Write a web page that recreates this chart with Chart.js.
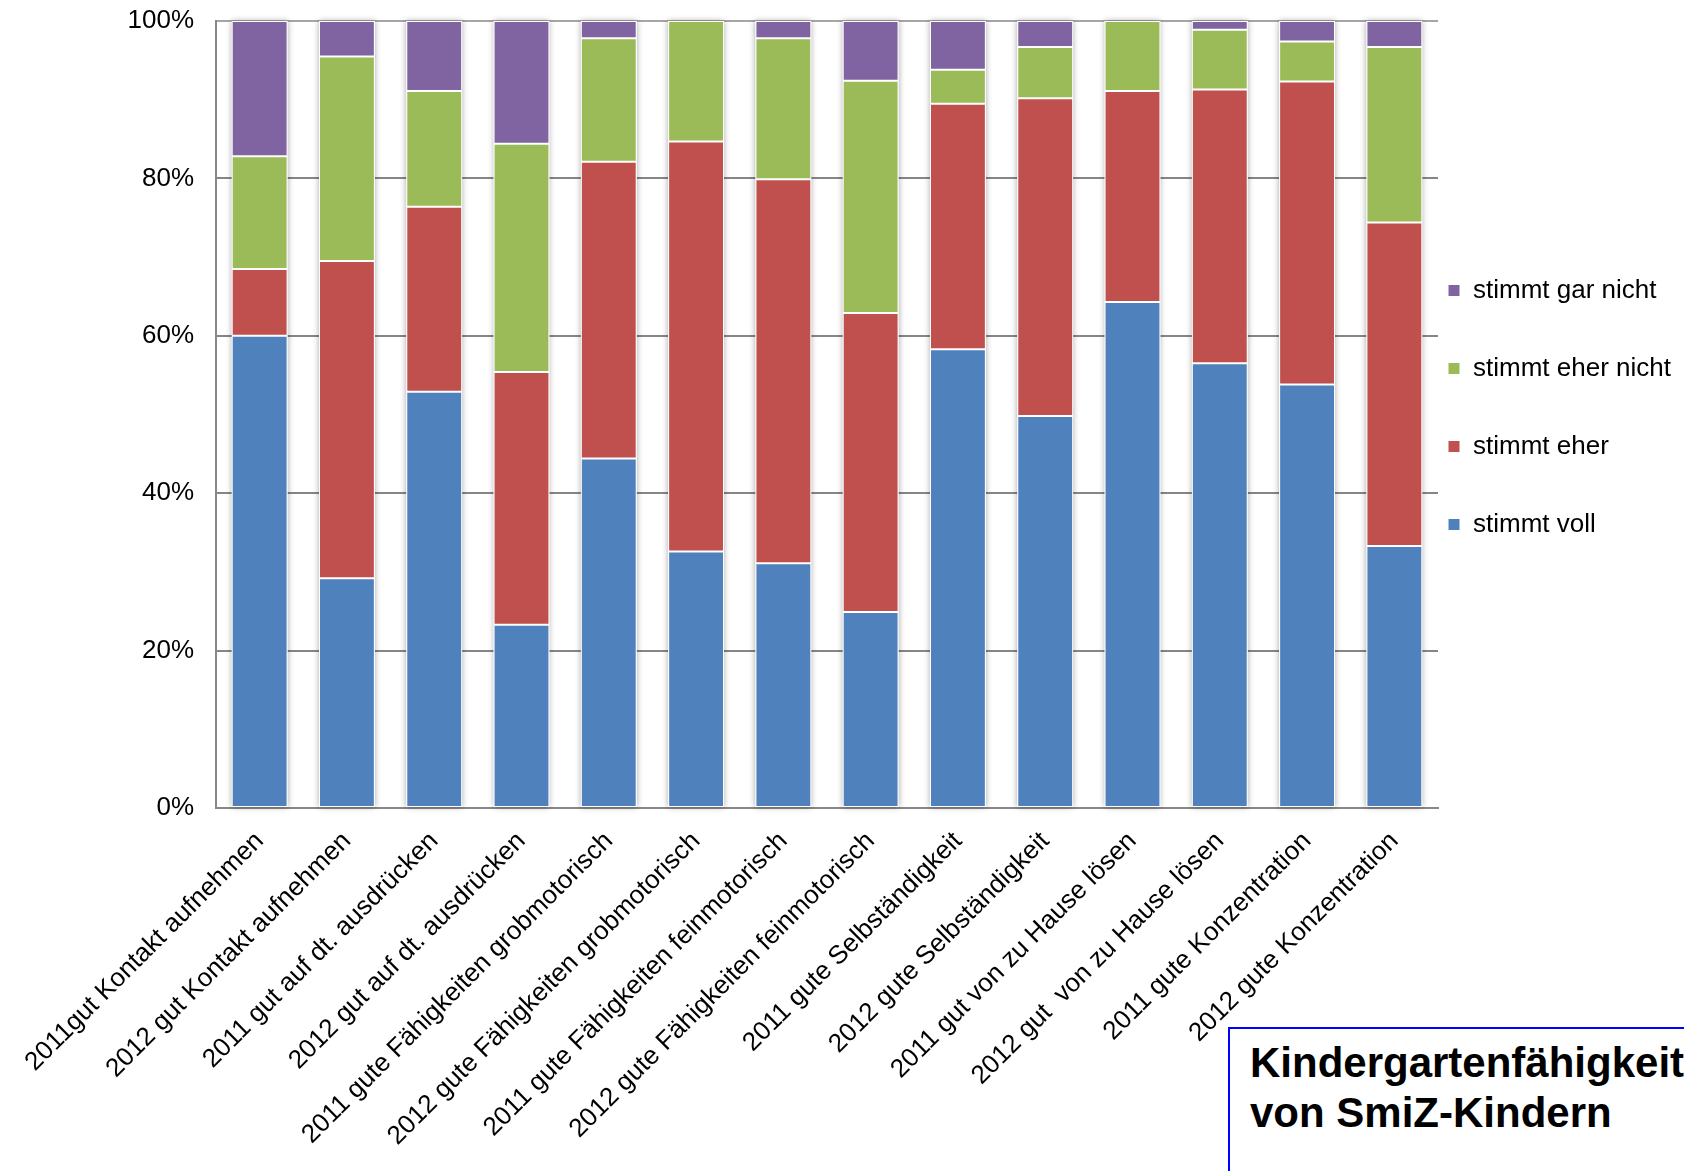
<!DOCTYPE html>
<html>
<head>
<meta charset="utf-8">
<script src="https://cdn.jsdelivr.net/npm/chart.js@4/dist/chart.umd.min.js"></script>
<style>
  html, body { margin: 0; padding: 0; background: #ffffff; overflow: hidden; width: 1684px; height: 1171px; }
  #wrap { position: absolute; left: 0; top: 0; width: 1684px; height: 1171px; }
  #title {
    position: absolute; left: 1228px; top: 1027px; width: 600px; height: 300px;
    border: 2px solid #0000ff; padding: 9px 0 0 20px; box-sizing: border-box;
    font-family: "Liberation Sans", Arial, sans-serif; font-weight: bold; font-size: 42px;
    line-height: 50px; white-space: nowrap; color: #000; background: #fff;
  }
</style>
</head>
<body>
<div id="wrap"><canvas id="c" width="1684" height="1171"></canvas></div>
<div id="title">Kindergartenfähigkeiten<br>von SmiZ-Kindern</div>
<script>
const categories = [
  "2011gut Kontakt aufnehmen",
  "2012 gut Kontakt aufnehmen",
  "2011 gut auf dt. ausdrücken",
  "2012 gut auf dt. ausdrücken",
  "2011 gute Fähigkeiten grobmotorisch",
  "2012 gute Fähigkeiten grobmotorisch",
  "2011 gute Fähigkeiten feinmotorisch",
  "2012 gute Fähigkeiten feinmotorisch",
  "2011 gute Selbständigkeit",
  "2012 gute Selbständigkeit",
  "2011 gut von zu Hause lösen",
  "2012 gut  von zu Hause lösen",
  "2011 gute Konzentration",
  "2012 gute Konzentration"
];
const seriesNames = ["stimmt voll", "stimmt eher", "stimmt eher nicht", "stimmt gar nicht"];
const stimmtVoll      = [60.0, 29.2, 52.9, 23.3, 44.4, 32.6, 31.1, 24.9, 58.3, 49.8, 64.3, 56.5, 53.8, 33.3];
const stimmtEher      = [ 8.5, 40.3, 23.5, 32.1, 37.7, 52.1, 48.8, 38.0, 31.2, 40.4, 26.8, 34.8, 38.5, 41.1];
const stimmtEherNicht = [14.3, 26.0, 14.7, 29.0, 15.7, 15.3, 17.9, 29.5,  4.3,  6.5,  8.9,  7.6,  5.1, 22.3];
const stimmtGarNicht  = [17.2,  4.5,  8.9, 15.6,  2.2,  0.0,  2.2,  7.6,  6.2,  3.3,  0.0,  1.1,  2.6,  3.3];
const yTicks = [0, 20, 40, 60, 80, 100];

const colors = ["#4F81BD", "#C0504D", "#9BBB59", "#8064A2"];
const FONT = "'Liberation Sans', Arial, sans-serif";

const seriesValues = [stimmtVoll, stimmtEher, stimmtEherNicht, stimmtGarNicht];

const shadowPlugin = {
  id: 'barShadow',
  beforeDatasetsDraw(chart) {
    const ctx = chart.ctx;
    const metas = chart.getSortedVisibleDatasetMetas();
    if (!metas.length) return;
    const n = metas[0].data.length;
    ctx.save();
    ctx.shadowColor = 'rgba(0,0,0,0.35)';
    ctx.shadowBlur = 6;
    ctx.fillStyle = '#ffffff';
    for (let j = 0; j < n; j++) {
      let top = Infinity, bottom = -Infinity, left = 0, width = 0;
      metas.forEach(m => {
        const el = m.data[j];
        if (!el) return;
        const p = el.getProps(['x', 'y', 'base', 'width'], true);
        top = Math.min(top, p.y, p.base);
        bottom = Math.max(bottom, p.y, p.base);
        left = p.x - p.width / 2;
        width = p.width;
      });
      ctx.fillRect(left, top, width, bottom - top);
    }
    ctx.restore();
  }
};

const legendShift = {
  id: 'legendShift',
  afterLayout(chart) {
    const lg = chart.legend;
    if (!lg) return;
    lg.left -= 42;
    lg.top -= 7; lg.bottom -= 7;
  }
};

new Chart(document.getElementById('c'), {
  type: 'bar',
  data: {
    labels: categories,
    datasets: seriesValues.map((vals, i) => ({
      label: seriesNames[i],
      data: vals,
      backgroundColor: colors[i],
      borderColor: '#ffffff',
      borderWidth: 1,
      borderSkipped: false,
      barPercentage: 0.64,
      categoryPercentage: 1.0
    }))
  },
  options: {
    responsive: false,
    animation: false,
    devicePixelRatio: 1,
    layout: { padding: { left: 0, top: 21, right: 0, bottom: 0 } },
    plugins: {
      tooltip: { enabled: false },
      legend: {
        position: 'right',
        fullSize: false,
        reverse: true,
        maxWidth: 246,
        labels: {
          boxWidth: 12,
          boxHeight: 12,
          padding: 52,
          color: '#000000',
          font: { family: FONT, size: 26 }
        }
      }
    },
    scales: {
      x: {
        stacked: true,
        grid: { display: false, drawTicks: false },
        border: { display: true, color: '#888888', width: 2 },
        ticks: {
          autoSkip: false,
          minRotation: 45,
          maxRotation: 45,
          padding: 18,
          color: '#000000',
          font: { family: FONT, size: 26 }
        },
        afterFit(scale) { scale.height = 1171 - 808; }
      },
      y: {
        stacked: true,
        min: 0,
        max: 100,
        afterBuildTicks(scale) { scale.ticks = yTicks.map(v => ({ value: v })); },
        grid: {
          drawTicks: false,
          lineWidth: 2,
          color: (ctx) => (ctx.tick && ctx.tick.value === 100) ? '#a6a6a6' : '#868686'
        },
        border: { display: true, color: '#888888', width: 2 },
        ticks: {
          padding: 22,
          color: '#000000',
          font: { family: FONT, size: 26 },
          callback: (v) => v + '%'
        },
        afterFit(scale) { scale.width = 216; scale.paddingTop = 0; scale.paddingBottom = 0; }
      }
    }
  },
  plugins: [shadowPlugin, legendShift]
});
</script>
</body>
</html>
